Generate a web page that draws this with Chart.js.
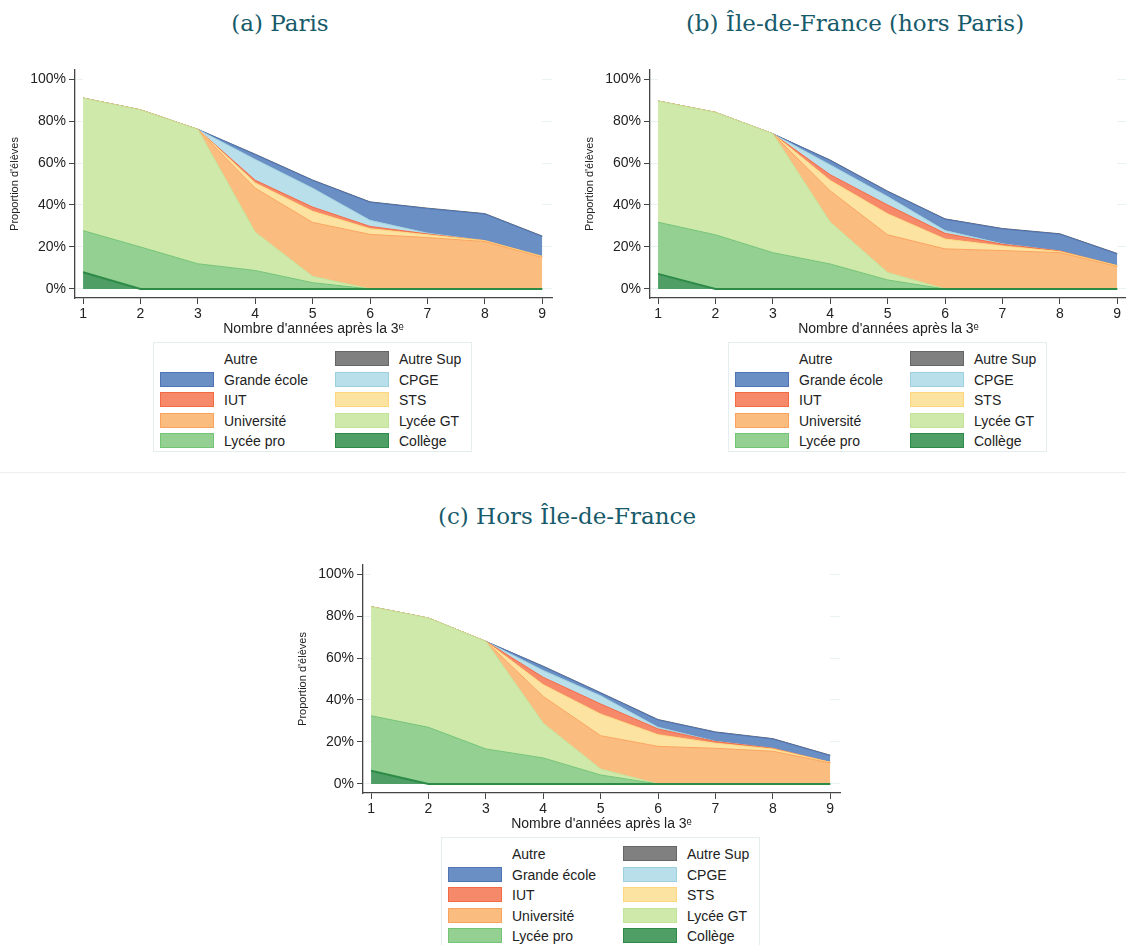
<!DOCTYPE html>
<html>
<head>
<meta charset="utf-8">
<script src="https://cdn.jsdelivr.net/npm/chart.js@4"></script>
<style>
  body { margin: 0; width: 1126px; height: 945px; background: #fff; position: relative; overflow: hidden; }
  .title { position: absolute; font-family: "DejaVu Serif", serif; font-size: 23px; color: #175a6a; white-space: nowrap; transform: translateX(-50%); }
  canvas { position: absolute; }
  .legend { position: absolute; width: 317px; height: 108px; border: 1px solid #e4eeee; background: #fff;
            font-family: "Liberation Sans", Arial, sans-serif; font-size: 14px; color: #222; }
  .item { position: absolute; height: 20px; line-height: 20px; }
  .swatch { position: absolute; top: 2px; width: 52px; height: 13px; }
  .lab { position: absolute; left: 64px; top: 0; white-space: nowrap; }
  .sep { position: absolute; left: 0; top: 472px; width: 1126px; height: 1px; background: #eeeeee; }
</style>
</head>
<body>
<div class="title" style="left:280px;top:10px">(a) Paris</div>
<div class="title" style="left:855px;top:10px">(b) Île-de-France (hors Paris)</div>
<div class="title" style="left:567px;top:503px">(c) Hors Île-de-France</div>
<canvas id="chartA" width="575" height="310" style="left:0px;top:40px"></canvas>
<canvas id="chartB" width="552" height="310" style="left:575px;top:40px"></canvas>
<canvas id="chartC" width="575" height="310" style="left:288px;top:535px"></canvas>
<div class="sep"></div>
<div id="legendA" class="legend" style="left:153px;top:342px"></div>
<div id="legendB" class="legend" style="left:728px;top:342px"></div>
<div id="legendC" class="legend" style="left:441px;top:837px"></div>

<script>
const years = [1, 2, 3, 4, 5, 6, 7, 8, 9];
const yTicks = [0, 20, 40, 60, 80, 100];

// stacking order, bottom to top
const seriesNames = ['Collège', 'Lycée pro', 'Lycée GT', 'Université', 'STS', 'IUT', 'CPGE', 'Grande école', 'Autre Sup', 'Autre'];
const fillColors = ['#4f9e66', '#93d092', '#cfe9ab', '#fbbd7f', '#fde3a1', '#f5896a', '#b9dfea', '#6a8fc4', '#808080', '#ffffff'];
const lineColors = ['#2d8a47', '#74c476', '#c2e39a', '#fba35e', '#fcd77e', '#f26a44', '#9fd0e0', '#4e74b5', '#666666', '#ffffff'];

// (a) Paris
const parisCollege = [8, 0, 0, 0, 0, 0, 0, 0, 0];
const parisPro = [19.8, 20, 12, 8.8, 3, 0, 0, 0, 0];
const parisGT = [63.1, 65.3, 64, 18.2, 3, 0, 0, 0, 0];
const parisUniv = [0, 0, 0, 21, 25.7, 26, 24.5, 22.6, 15];
const parisSTS = [0, 0, 0, 2.5, 5.3, 2.7, 1.3, 0.4, 0.5];
const parisIUT = [0, 0, 0, 1.3, 2, 1.1, 0.4, 0, 0];
const parisCPGE = [0, 0, 0, 9.9, 9, 2.9, 0.4, 0, 0];
const parisGE = [0, 0, 0, 2.3, 3.7, 8.6, 11.7, 12.7, 9.5];
const parisAutreSup = [0, 0, 0, 0.2, 0.2, 0.2, 0.2, 0.2, 0.2];
const parisAutre = [9.1, 14.7, 24, 35.8, 48.1, 58.5, 61.5, 64.1, 74.8];

// (b) Île-de-France hors Paris
const idfCollege = [7.2, 0, 0, 0, 0, 0, 0, 0, 0];
const idfPro = [24.6, 25.8, 17.3, 11.9, 4.3, 0, 0, 0, 0];
const idfGT = [57.7, 58.3, 56.6, 19.9, 3.5, 0, 0, 0, 0];
const idfUniv = [0, 0, 0, 14.9, 18, 19.1, 18.3, 17.3, 10.7];
const idfSTS = [0, 0, 0, 5, 10, 4.7, 2.2, 0.5, 0.4];
const idfIUT = [0, 0, 0, 2.7, 4.2, 2.7, 0.8, 0.3, 0];
const idfCPGE = [0, 0, 0, 4.7, 4, 1.3, 0.2, 0, 0];
const idfGE = [0, 0, 0, 2.1, 2.4, 5.4, 7.1, 8, 5.6];
const idfAutreSup = [0, 0, 0, 0.2, 0.2, 0.2, 0.2, 0.2, 0.2];
const idfAutre = [10.5, 15.9, 26.1, 38.6, 53.4, 66.6, 71.2, 73.7, 83.1];

// (c) Hors Île-de-France
const provCollege = [6.3, 0, 0, 0, 0, 0, 0, 0, 0];
const provPro = [26.2, 27, 16.7, 12.4, 4.3, 0, 0, 0, 0];
const provGT = [51.9, 52, 51.2, 16.5, 2.8, 0, 0, 0, 0];
const provUniv = [0, 0, 0, 12.8, 15.9, 17.9, 17, 15.6, 10];
const provSTS = [0, 0, 0, 5.6, 10.3, 5.6, 2.4, 1.1, 0.3];
const provIUT = [0, 0, 0, 3.5, 4.8, 2.7, 0.8, 0.3, 0];
const provCPGE = [0, 0, 0, 3.2, 3.9, 0.8, 0.1, 0, 0];
const provGE = [0, 0, 0, 1.9, 1.3, 3.5, 4.3, 4.4, 3.2];
const provAutreSup = [0, 0, 0, 0.2, 0.2, 0.2, 0.2, 0.2, 0.2];
const provAutre = [15.6, 21, 32.1, 43.9, 56.5, 69.3, 75.2, 78.4, 86.3];

Chart.defaults.font.family = '"Liberation Sans", Arial, sans-serif';
Chart.defaults.color = '#222';

function makePanel(id, layers, padRight) {
  const datasets = layers.map((vals, i) => ({
    label: seriesNames[i],
    data: years.map((x, j) => ({ x: x, y: vals[j] })),
    backgroundColor: fillColors[i],
    borderColor: lineColors[i],
    borderWidth: i === 0 ? 2 : (i === layers.length - 1 ? 0 : 1),
    pointRadius: 0,
    tension: 0,
    fill: i === 0 ? 'origin' : '-1'
  }));

  new Chart(document.getElementById(id), {
    type: 'line',
    data: { datasets: datasets },
    options: {
      responsive: false,
      animation: false,
      layout: { padding: { left: 0, top: 30, right: padRight, bottom: 0 } },
      plugins: { legend: { display: false }, tooltip: { enabled: false } },
      scales: {
        x: {
          type: 'linear',
          min: 0.86,
          max: 9.17,
          afterBuildTicks: (scale) => { scale.ticks = years.map(v => ({ value: v })); },
          afterFit: (scale) => { scale.height = 52; },
          ticks: { font: { size: 14 }, color: '#222', padding: 2 },
          grid: { drawOnChartArea: false, tickLength: 6, tickColor: '#444' },
          border: { color: '#444', width: 1.3 },
          title: { display: true, text: 'Nombre d\'années après la 3ᵉ', font: { size: 14 }, color: '#222', padding: { top: 0, bottom: 12 } }
        },
        y: {
          stacked: true,
          min: -4.3,
          max: 104.3,
          afterBuildTicks: (scale) => { scale.ticks = yTicks.map(v => ({ value: v })); },
          afterFit: (scale) => { scale.width = 75; },
          ticks: { font: { size: 14 }, color: '#222', padding: 3, callback: (v) => v + '%' },
          grid: { color: '#e9f3f1', tickLength: 6, tickColor: '#444' },
          border: { color: '#444', width: 1.3 },
          title: { display: true, text: 'Proportion d\'élèves', font: { size: 11 }, color: '#222', padding: { top: 8, bottom: 0 } }
        }
      }
    }
  });
}

function makeLegend(id) {
  const box = document.getElementById(id);
  const order = seriesNames.map((n, i) => i).reverse();
  order.forEach((idx, k) => {
    const row = Math.floor(k / 2), col = k % 2;
    const item = document.createElement('div');
    item.className = 'item';
    item.style.left = (col === 0 ? 6 : 181) + 'px';
    item.style.top = (6 + row * 20.5) + 'px';
    if (seriesNames[idx] !== 'Autre') {
      const sw = document.createElement('div');
      sw.className = 'swatch';
      sw.style.background = fillColors[idx];
      sw.style.border = '1.5px solid ' + lineColors[idx];
      item.appendChild(sw);
    }
    const lab = document.createElement('div');
    lab.className = 'lab';
    lab.textContent = seriesNames[idx];
    item.appendChild(lab);
    box.appendChild(item);
  });
}

makePanel('chartA', [parisCollege, parisPro, parisGT, parisUniv, parisSTS, parisIUT, parisCPGE, parisGE, parisAutreSup, parisAutre], 23);
makePanel('chartB', [idfCollege, idfPro, idfGT, idfUniv, idfSTS, idfIUT, idfCPGE, idfGE, idfAutreSup, idfAutre], 0);
makePanel('chartC', [provCollege, provPro, provGT, provUniv, provSTS, provIUT, provCPGE, provGE, provAutreSup, provAutre], 23);
makeLegend('legendA');
makeLegend('legendB');
makeLegend('legendC');
</script>
</body>
</html>
